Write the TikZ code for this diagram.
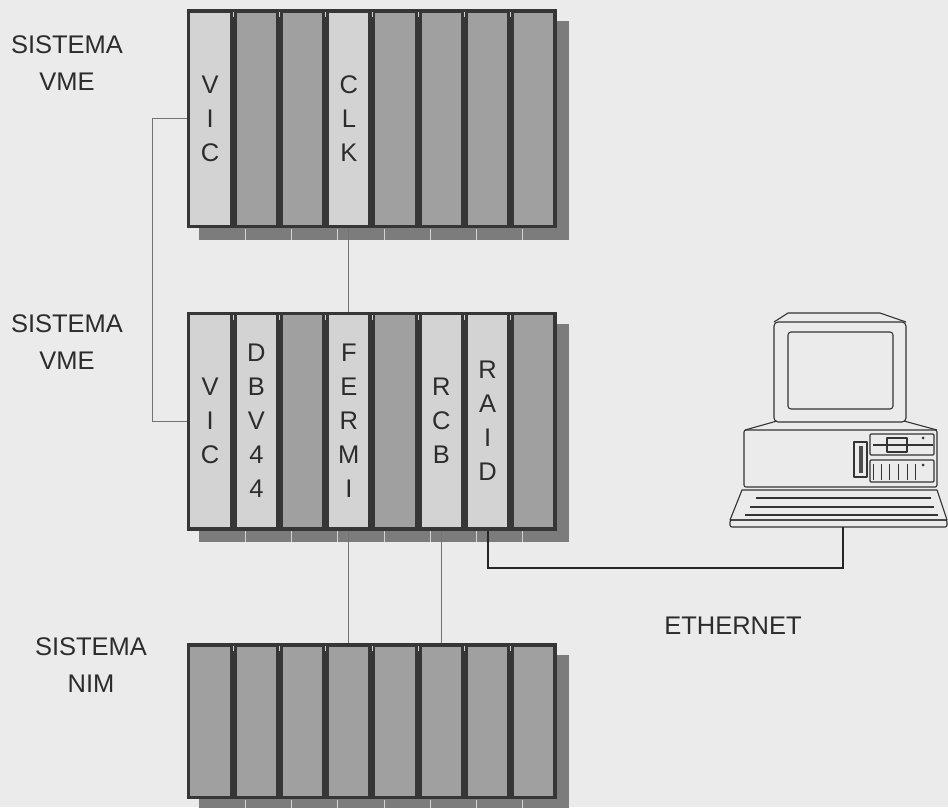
\documentclass[tikz,border=0pt]{standalone}
\usepackage{fontspec}
\setmainfont{Liberation Sans}
\usetikzlibrary{positioning, calc}

\definecolor{bgcol}{HTML}{EBEBEB}
\definecolor{rackcol}{HTML}{363636}
\definecolor{boardlight}{HTML}{D3D3D3}
\definecolor{boarddark}{HTML}{A0A0A0}
\definecolor{shadowcol}{HTML}{7C7C7C}
\definecolor{inkcol}{HTML}{2C2C2C}

\begin{document}
\begin{tikzpicture}[x=1pt, y=-1pt,
    board/.style={rectangle, draw=rackcol, line width=3.5pt, outer sep=1.75pt, inner sep=0pt, minimum width=42.75pt, font=\fontsize{25.5}{34}\selectfont, text=inkcol, align=center},
    vmeboard/.style={board, minimum height=215.5pt},
    nimboard/.style={board, minimum height=152.5pt},
    light/.style={fill=boardlight},
    dark/.style={fill=boarddark},
    syslabel/.style={font=\fontsize{25.5}{37}\selectfont, text=inkcol, align=center},
    bus/.style={draw=black!55, line width=0.8pt},
    ethernet/.style={draw=black!85, line width=2pt},
    pcline/.style={draw=black!80, line width=1.1pt, line join=round}
]
    \useasboundingbox[fill=bgcol] (0,0) rectangle (948,807);

    % drop shadows of the three crates, with the slot marks on the lower edge
    \foreach \ytop/\ybot in {9/228, 312/530, 643/799} {
        \fill[shadowcol] (199,\ytop+12) rectangle (569,\ybot+12);
        \foreach \k in {1,...,7}
            \draw[boardlight, line width=0.8pt] ({187+46.25*\k+12},\ybot+1) -- ++(0,11);
    }

    % upper VME crate
    \foreach \i/\kind/\txt in {1/light/{V\\I\\C}, 2/dark/{}, 3/dark/{}, 4/light/{C\\L\\K},
                               5/dark/{}, 6/dark/{}, 7/dark/{}, 8/dark/{}}
        \node[vmeboard, \kind] (top\i) at ({210.1+46.25*(\i-1)}, 118.5) {\txt};

    % lower VME crate
    \foreach \i/\kind/\txt in {1/light/{V\\I\\C}, 2/light/{D\\B\\V\\4\\4}, 3/dark/{}, 4/light/{F\\E\\R\\M\\I},
                               5/dark/{}, 6/light/{R\\C\\B}, 7/light/{R\\A\\I\\D}, 8/dark/{}}
        \node[vmeboard, \kind] (mid\i) at ({210.1+46.25*(\i-1)}, 421) {\txt};

    % NIM crate
    \foreach \i in {1,...,8}
        \node[nimboard, dark] (nim\i) at ({210.1+46.25*(\i-1)}, 721) {};

    % small catches at the top of the slot rails
    \foreach \ytop in {9, 312, 643}
        \foreach \k in {1,...,7}
            \draw[boardlight, line width=0.7pt] ({187+46.25*\k},\ytop+3) -- ++(0,5);

    \node[syslabel] (sysA) at (67,63) {SISTEMA\\VME};
    \node[syslabel] (sysB) at (67,342.5) {SISTEMA\\VME};
    \node[syslabel] (sysC) at (91,665.5) {SISTEMA\\NIM};
    \node[syslabel] (eth) at (733,625.5) {ETHERNET};

    % workstation
    \begin{scope}[pcline]
        \draw (774,322) -- (788,313) -- (880,313) -- (906,322);
        \draw[rounded corners=4pt] (774,322) rectangle (906,422);
        \draw[rounded corners=3pt] (788,332) rectangle (893,409);
        \draw (777,421) -- (745,430);
        \draw (904,421) -- (937,430);
        \draw[rounded corners=2pt] (744,430) rectangle (937,487);
        % drives
        \draw[rounded corners=1pt] (870,434) rectangle (934,455);
        \draw (873,445) -- (933,445);
        \draw (887,438) rectangle (907,452);
        \fill[black!80] (923,438) circle (1.5);
        \draw[rounded corners=1pt] (870,460) rectangle (934,482);
        \foreach \x in {873,881,889,898,907,915}
            \draw[line width=0.9pt] (\x,464) -- (\x,480);
        \fill[black!80] (923,465) circle (1.5);
        \draw (854,442) rectangle (867,477);
        \fill[black!70] (858.5,446) rectangle (862.5,473);
        % keyboard
        \draw (742,490) -- (937,490) -- (947,520) -- (730,520) -- cycle;
        \draw[rounded corners=2pt] (730,520) rectangle (947,527);
        \draw (756,498) -- (931,498);
        \draw (750,507) -- (934,507);
        \draw (745,515) -- (938,515);
    \end{scope}
    \coordinate (kbd) at (843,527);

    % connections between the crates
    \draw[bus] (top1.west) -- ++(-35,0) |- (mid1.west);
    \draw[bus] (top4.south) -- (mid4.north);
    \draw[bus] (mid4.south) -- (nim4.north);
    \draw[bus] (mid6.south) -- (nim6.north);
    \draw[ethernet] (mid7.south) -- ++(0,37) -| (kbd);

\end{tikzpicture}
\end{document}
